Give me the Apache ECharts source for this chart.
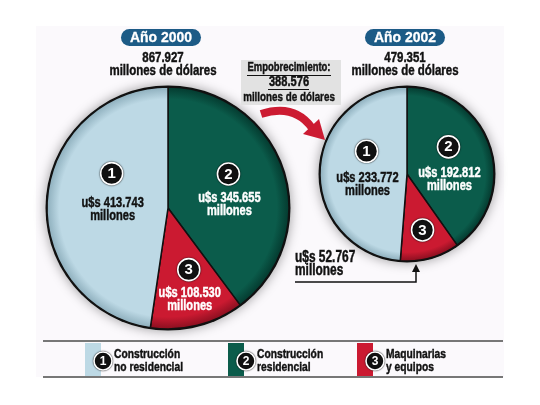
<!DOCTYPE html>
<html>
<head>
<meta charset="utf-8">
<script src="https://cdn.jsdelivr.net/npm/echarts@6/dist/echarts.min.js"></script>
<style>
  html, body { margin: 0; padding: 0; background: #fff; }
  #chart { width: 540px; height: 405px; }
</style>
</head>
<body>
<div id="chart"></div>
<script>
// data (millones de dólares)
const categories = ['Construcción\nno residencial', 'Construcción\nresidencial', 'Maquinarias\ny equipos'];
const years = ['Año 2000', 'Año 2002'];
const totals = ['867.927', '479.351'];
const values2000 = [413.743, 345.655, 108.530];
const values2002 = [233.772, 192.812, 52.767];
const lossLines = ['Empobrecimiento:', '388.576', 'millones de dólares'];
const unitText = 'millones de dólares';

const FONT = "'Liberation Sans', Arial, sans-serif";
const SQUEEZE = 0.75; // fake a condensed face, no narrow font installed
// [fill, rim shade]
const COLORS = [['#bdd9e5', '#8eafbd'], ['#0b5c4b', '#043a2f'], ['#cb1a31', '#8a0f20']];
const ORDER = [1, 2, 0]; // clockwise from 12 o'clock

const chart = echarts.init(document.getElementById('chart'), null, { renderer: 'canvas' });

const fmt = v => 'u$s ' + v.toFixed(3);

// size is the "narrow font" size; taller glyphs squeezed to the same width
function narrow(x, y, text, size, color, align, lineHeight) {
  const px = +(size * 0.82 / SQUEEZE).toFixed(1);
  return {
    type: 'text', z: 20, x: x, y: y, scaleX: SQUEEZE,
    style: {
      text: text, fill: color, stroke: color, lineWidth: 0.45,
      font: 'bold ' + px + 'px ' + FONT, lineHeight: lineHeight || size,
      align: align || 'center', verticalAlign: 'middle',
      textAlign: align || 'center', textVerticalAlign: 'middle'
    }
  };
}

function badge(x, y, num, r, size) {
  return [
    { type: 'circle', z: 19, shape: { cx: x, cy: y, r: r }, style: { fill: '#111', stroke: '#fff', lineWidth: 1.6, shadowBlur: 1.5, shadowColor: '#000' } },
    {
      type: 'text', z: 20, x: x, y: y + 0.5,
      style: { text: String(num), fill: '#fff', font: 'bold ' + size + 'px ' + FONT, align: 'center', verticalAlign: 'middle', textAlign: 'center', textVerticalAlign: 'middle' }
    }
  ];
}

function pieSeries(values, p) {
  const grad = (c) => ({
    type: 'radial', x: p.cx, y: p.cy, r: p.r, global: true,
    colorStops: [
      { offset: 0, color: c[0] },
      { offset: 0.9, color: c[0] },
      { offset: 1, color: c[1] }
    ]
  });
  return {
    type: 'pie',
    center: [p.cx, p.cy],
    radius: p.r,
    startAngle: 90,
    clockwise: true,
    silent: true,
    animation: false,
    z: 3,
    itemStyle: { borderColor: '#111', borderWidth: 1.5 },
    label: { show: false },
    labelLine: { show: false },
    data: ORDER.map(i => ({
      name: categories[i],
      value: values[i],
      itemStyle: { color: grad(COLORS[i]) }
    }))
  };
}

const BIG = { cx: 168, cy: 208, r: 121 };
const SMALL = { cx: 407, cy: 174, r: 87 };
// label block tweaks per category: [dx, dy of badge from mid-radius point, gap badge->text, show value]
const BIG_LBL = [[4, -30, 29, true], [3, -15, 24, true], [6, 3, 23, true]];
const SMALL_LBL = [[3, -21, 27, true], [0, -14, 26, true], [4, 14, 0, false]];

const graphics = [];
// panel
graphics.push({ type: 'rect', z: 0, shape: { x: 36, y: 26, width: 468, height: 351 }, style: { fill: '#fbf9fc' } });
// pie rims / glow
[BIG, SMALL].forEach(p => {
  graphics.push({
    type: 'circle', z: 1,
    shape: { cx: p.cx, cy: p.cy, r: p.r + 1.5 },
    style: { fill: '#111', shadowBlur: 12, shadowColor: 'rgba(0,0,0,0.38)' }
  });
});
// year pills + totals
const heads = [{ x: 161, tx: 163 }, { x: 405, tx: 405 }];
heads.forEach((h, k) => {
  graphics.push({ type: 'rect', z: 10, shape: { x: h.x - 40, y: 29, width: 80, height: 17, r: 8.5 }, style: { fill: '#1c5b86' } });
  graphics.push({
    type: 'text', z: 11, x: h.x, y: 38, scaleX: 0.93,
    style: { text: years[k], fill: '#fff', stroke: '#fff', lineWidth: 0.3, font: 'bold 15px ' + FONT, align: 'center', verticalAlign: 'middle', textAlign: 'center', textVerticalAlign: 'middle' }
  });
  graphics.push(narrow(h.tx, 64, totals[k] + '\n' + unitText, 14, '#111', 'center', 13));
});
// loss box
graphics.push({ type: 'rect', z: 10, shape: { x: 241, y: 60, width: 100, height: 45 }, style: { fill: '#e2e2e2' } });
const lossY = [68, 82, 97];
const lossSize = [11.5, 13.5, 12];
lossLines.forEach((t, k) => graphics.push(narrow(289, lossY[k], t, lossSize[k], '#111')));
graphics.push({ type: 'line', z: 11, shape: { x1: 247, y1: 75.5, x2: 331, y2: 75.5 }, style: { stroke: '#111', lineWidth: 1.2 } });
graphics.push({ type: 'line', z: 11, shape: { x1: 268, y1: 89.5, x2: 309, y2: 89.5 }, style: { stroke: '#111', lineWidth: 1.2 } });
// red arrow
graphics.push({
  type: 'bezierCurve', z: 11,
  shape: { x1: 261, y1: 114, cpx1: 286, cpy1: 106, cpx2: 302, cpy2: 114, x2: 312, y2: 128 },
  style: { stroke: '#cc1b32', lineWidth: 8, fill: null }
});
graphics.push({ type: 'polygon', z: 11, shape: { points: [[303, 134], [319, 119], [325, 140]] }, style: { fill: '#cc1b32' } });
// small red slice: outside label with arrow
graphics.push(narrow(295, 264, fmt(values2002[2]) + '\nmillones', 14.5, '#111', 'left', 13));
graphics.push({ type: 'polyline', z: 11, shape: { points: [[295, 282], [416, 282], [416, 270]] }, style: { stroke: '#111', lineWidth: 1.5, fill: null } });
graphics.push({ type: 'polygon', z: 11, shape: { points: [[412, 272], [420, 272], [416, 264]] }, style: { fill: '#111' } });
// legend
graphics.push({ type: 'line', z: 10, shape: { x1: 43, y1: 341, x2: 503, y2: 341 }, style: { stroke: '#777', lineWidth: 2 } });
graphics.push({ type: 'line', z: 10, shape: { x1: 43, y1: 377, x2: 503, y2: 377 }, style: { stroke: '#777', lineWidth: 2 } });
const legX = [85, 228, 357];
categories.forEach((c, i) => {
  const x = legX[i];
  graphics.push({ type: 'rect', z: 10, shape: { x: x, y: 343, width: 16, height: 33 }, style: { fill: COLORS[i][0] } });
  graphics.push(...badge(x + 18, 361, i + 1, 9, 12));
  graphics.push(narrow(x + 29, 361, c, 12.5, '#111', 'left', 13));
});

const series = [pieSeries(values2000, BIG), pieSeries(values2002, SMALL)];
chart.setOption({
  backgroundColor: '#fff',
  animation: false,
  graphic: { elements: graphics },
  series: series
});

// slice labels placed from the pie layout ECharts computed
const tweaks = [BIG_LBL, SMALL_LBL];
const vals = [values2000, values2002];
const labelEls = [];
series.forEach((s, si) => {
  const data = chart.getModel().getSeriesByIndex(si).getData();
  data.each(idx => {
    const L = data.getItemLayout(idx);
    const cat = ORDER[idx];
    const t = tweaks[si][cat];
    const mid = (L.startAngle + L.endAngle) / 2;
    const bx = L.cx + Math.cos(mid) * L.r / 2 + t[0];
    const by = L.cy + Math.sin(mid) * L.r / 2 + t[1];
    labelEls.push(...badge(bx, by, cat + 1, 11, 15));
    if (t[3]) {
      const col = cat === 0 ? '#111' : '#fff';
      labelEls.push(narrow(bx + 1, by + t[2] + 6.5, fmt(vals[si][cat]) + '\nmillones', 13.5, col, 'center', 13));
    }
  });
});
chart.setOption({ graphic: { elements: graphics.concat(labelEls) } }, { replaceMerge: ['graphic'] });
</script>
</body>
</html>
